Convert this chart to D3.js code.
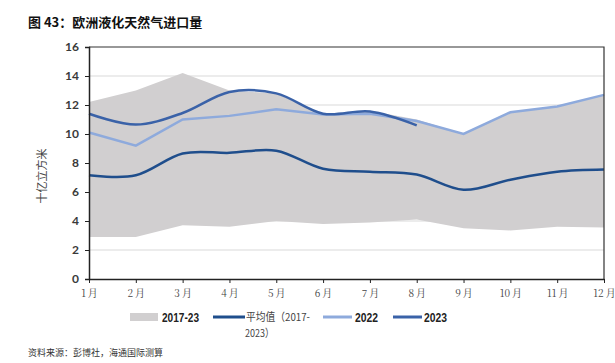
<!DOCTYPE html>
<html>
<head>
<meta charset="utf-8">
<script src="https://cdn.jsdelivr.net/npm/d3@7"></script>
<style>
  body { margin: 0; background: #fff; }
  svg { display: block; }
</style>
</head>
<body>
<svg width="615" height="363"></svg>
<script>
// month labels
const months = ['1 月', '2 月', '3 月', '4 月', '5 月', '6 月', '7 月', '8 月', '9 月', '10 月', '11 月', '12 月'];
// 2017-23 range (band)
const rangeHigh = [12.2, 13.0, 14.2, 13.0, 12.8, 11.4, 11.6, 11.0, 10.0, 11.5, 11.9, 12.7];
const rangeLow = [2.9, 2.9, 3.7, 3.6, 4.0, 3.8, 3.9, 4.1, 3.5, 3.35, 3.6, 3.55];
// average 2017-2023
const avgValues = [7.15, 7.15, 8.65, 8.7, 8.85, 7.6, 7.4, 7.2, 6.15, 6.85, 7.4, 7.55];
const values2022 = [10.1, 9.2, 11.0, 11.25, 11.7, 11.35, 11.4, 10.9, 10.0, 11.5, 11.9, 12.7];
const values2023 = [11.4, 10.65, 11.45, 12.9, 12.8, 11.4, 11.55, 10.6];
const yTicks = [0, 2, 4, 6, 8, 10, 12, 14, 16];

const svg = d3.select('svg');
const plotLeft = 89, plotRight = 604, plotTop = 47, plotBottom = 279;

const x = d3.scalePoint().domain(d3.range(12)).range([plotLeft, plotRight]);
const y = d3.scaleLinear().domain([0, 16]).range([plotBottom, plotTop]);

// title
svg.append('text')
  .attr('x', 28).attr('y', 27)
  .attr('font-family', '"Noto Sans CJK SC", sans-serif')
  .attr('font-size', 13).attr('font-weight', 'bold')
  .attr('fill', '#111')
  .text('图 43：欧洲液化天然气进口量');

// gridlines
svg.append('g').selectAll('line')
  .data(yTicks.filter(d => d > 0 && d < 16))
  .join('line')
  .attr('x1', plotLeft).attr('x2', plotRight)
  .attr('y1', d => y(d)).attr('y2', d => y(d))
  .attr('stroke', '#d9d9d9').attr('stroke-width', 1.2);

// band
const area = d3.area()
  .x((d, i) => x(i))
  .y0((d, i) => y(rangeLow[i]))
  .y1(d => y(d));
svg.append('path')
  .datum(rangeHigh)
  .attr('d', area)
  .attr('fill', '#d1cfd0');

const smooth = d3.line().x((d, i) => x(i)).y(d => y(d)).curve(d3.curveCardinal.tension(0));
const straight = d3.line().x((d, i) => x(i)).y(d => y(d));

svg.append('path').datum(avgValues).attr('d', smooth)
  .attr('fill', 'none').attr('stroke', '#1f4e8c').attr('stroke-width', 2.5);
svg.append('path').datum(values2022).attr('d', straight)
  .attr('fill', 'none').attr('stroke', '#8eaadc').attr('stroke-width', 2.5);
svg.append('path').datum(values2023).attr('d', smooth)
  .attr('fill', 'none').attr('stroke', '#3a62a8').attr('stroke-width', 2.5);

// frame
svg.append('path')
  .attr('d', `M${plotLeft},${plotTop}H${plotRight}V${plotBottom}`)
  .attr('fill', 'none').attr('stroke', '#333').attr('stroke-width', 1.2);

// axes
const yAxis = svg.append('g')
  .attr('transform', `translate(${plotLeft},0)`)
  .call(d3.axisLeft(y).tickValues(yTicks).tickSize(4).tickPadding(6));
yAxis.select('.domain').attr('stroke', '#222').attr('stroke-width', 1.5);
yAxis.selectAll('line').attr('stroke', '#222');
yAxis.selectAll('text')
  .attr('font-family', 'Lato, "Liberation Sans", sans-serif')
  .attr('font-size', 12).attr('font-weight', 'bold').attr('fill', '#3a3a3a');

const xAxis = svg.append('g')
  .attr('transform', `translate(0,${plotBottom})`)
  .call(d3.axisBottom(x).tickFormat(i => months[i].replace(' ', '\u2009')).tickSize(4).tickPadding(7).tickSizeOuter(0));
xAxis.select('.domain').attr('stroke', '#222').attr('stroke-width', 1.5);
xAxis.selectAll('line').attr('stroke', '#222');
xAxis.selectAll('text')
  .attr('font-family', '"Noto Serif CJK SC", "Noto Sans CJK SC", sans-serif')
  .attr('font-size', 10).attr('fill', '#444');

// y axis title
svg.append('text')
  .attr('transform', 'translate(46,176) rotate(-90)')
  .attr('text-anchor', 'middle')
  .attr('font-family', '"Noto Sans CJK SC", sans-serif')
  .attr('font-size', 11).attr('fill', '#444')
  .text('十亿立方米');

// legend
const lg = svg.append('g')
  .attr('font-family', '"Liberation Sans", sans-serif')
  .attr('font-size', 13).attr('fill', '#222');
lg.append('rect').attr('x', 130).attr('y', 313).attr('width', 28).attr('height', 8).attr('fill', '#d1cfd0');
lg.append('text').attr('x', 162).attr('y', 322).attr('font-weight', 'bold')
  .attr('textLength', 37).attr('lengthAdjust', 'spacingAndGlyphs').text('2017-23');
lg.append('line').attr('x1', 213).attr('x2', 245).attr('y1', 317).attr('y2', 317)
  .attr('stroke', '#1f4e8c').attr('stroke-width', 3);
lg.append('text').attr('x', 246).attr('y', 321)
  .attr('font-family', '"Noto Sans CJK SC", sans-serif').attr('font-size', 11).attr('fill', '#444')
  .attr('textLength', 64).attr('lengthAdjust', 'spacingAndGlyphs')
  .text('平均值（2017-');
lg.append('text').attr('x', 245).attr('y', 337)
  .attr('font-family', '"Noto Sans CJK SC", sans-serif').attr('font-size', 11).attr('fill', '#444')
  .attr('textLength', 29).attr('lengthAdjust', 'spacingAndGlyphs')
  .text('2023）');
lg.append('line').attr('x1', 323).attr('x2', 352).attr('y1', 317).attr('y2', 317)
  .attr('stroke', '#8eaadc').attr('stroke-width', 3);
lg.append('text').attr('x', 355).attr('y', 322).attr('font-weight', 'bold')
  .attr('textLength', 23).attr('lengthAdjust', 'spacingAndGlyphs').text('2022');
lg.append('line').attr('x1', 393).attr('x2', 422).attr('y1', 317).attr('y2', 317)
  .attr('stroke', '#3a62a8').attr('stroke-width', 3);
lg.append('text').attr('x', 424).attr('y', 322).attr('font-weight', 'bold')
  .attr('textLength', 23).attr('lengthAdjust', 'spacingAndGlyphs').text('2023');

// source
svg.append('text')
  .attr('x', 28).attr('y', 356)
  .attr('font-family', '"Noto Sans CJK SC", sans-serif')
  .attr('font-size', 9).attr('fill', '#333')
  .text('资料来源：彭博社，海通国际测算');
</script>
</body>
</html>
